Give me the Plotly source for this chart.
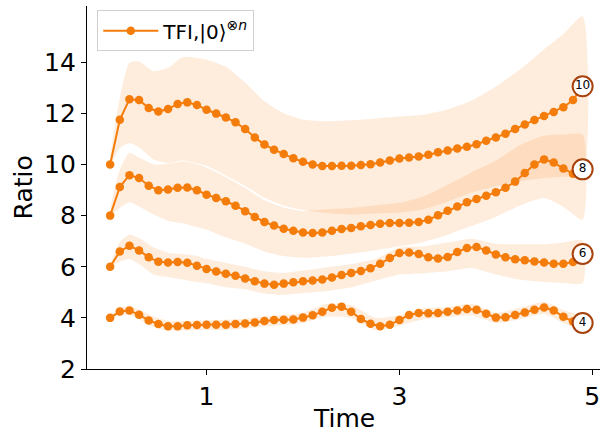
import plotly.graph_objects as go

# ---- data ----
time = [round(0.1 * i, 1) for i in range(50)]

ratio_10 = [10.0, 11.75, 12.55, 12.52, 12.21, 12.07, 12.17, 12.37, 12.43, 12.33,
            12.14, 11.99, 11.84, 11.65, 11.39, 11.06, 10.78, 10.58, 10.41, 10.24,
            10.11, 10.0, 9.94, 9.94, 9.95, 9.95, 9.98, 10.01, 10.08, 10.16,
            10.23, 10.27, 10.31, 10.38, 10.48, 10.55, 10.63, 10.69, 10.79, 10.93,
            11.06, 11.2, 11.39, 11.56, 11.74, 11.9, 12.05, 12.24, 12.52, 13.06]
ratio_8 = [8.0, 9.12, 9.58, 9.47, 9.17, 8.99, 9.02, 9.09, 9.1, 8.99,
           8.82, 8.69, 8.56, 8.39, 8.17, 7.95, 7.75, 7.61, 7.49, 7.41,
           7.34, 7.32, 7.34, 7.41, 7.48, 7.52, 7.58, 7.63, 7.68, 7.71,
           7.71, 7.72, 7.75, 7.84, 8.01, 8.19, 8.36, 8.52, 8.65, 8.78,
           8.91, 9.09, 9.33, 9.67, 10.0, 10.2, 10.08, 9.84, 9.64, 9.81]
ratio_6 = [6.0, 6.6, 6.82, 6.64, 6.37, 6.2, 6.17, 6.19, 6.16, 6.04,
           5.91, 5.81, 5.73, 5.65, 5.54, 5.43, 5.34, 5.3, 5.34, 5.39,
           5.43, 5.46, 5.5, 5.58, 5.68, 5.76, 5.83, 5.94, 6.12, 6.34,
           6.54, 6.56, 6.5, 6.37, 6.32, 6.38, 6.58, 6.73, 6.77, 6.64,
           6.48, 6.37, 6.29, 6.25, 6.21, 6.17, 6.12, 6.12, 6.19, 6.5]
ratio_4 = [4.0, 4.25, 4.29, 4.12, 3.9, 3.76, 3.67, 3.67, 3.71, 3.72,
           3.73, 3.73, 3.73, 3.76, 3.78, 3.82, 3.88, 3.92, 3.93, 3.94,
           4.01, 4.1, 4.24, 4.4, 4.44, 4.24, 3.96, 3.77, 3.67, 3.73,
           3.92, 4.11, 4.19, 4.18, 4.19, 4.24, 4.29, 4.35, 4.32, 4.16,
           4.01, 4.02, 4.11, 4.21, 4.32, 4.41, 4.29, 4.04, 3.86, 3.8]

band_t = [0, 0.1, 0.2, 0.3, 0.45, 0.6, 0.75, 0.9, 1.0, 1.2, 1.4, 1.6, 1.8,
          2.0, 2.25, 2.5, 2.75, 3.0, 3.25, 3.5, 3.75, 4.0, 4.25, 4.5, 4.7, 4.9]

upper_10 = [10.0, 12.6, 13.97, 14.03, 13.65, 13.78, 14.2, 14.17, 14.1, 13.82, 13.2, 12.47, 12.0,
            11.75, 11.69, 11.73, 11.8, 11.88, 11.95, 12.15, 12.5, 13.05, 13.72, 14.5, 15.1, 15.8]
lower_10 = [10.0, 10.65, 10.84, 10.66, 10.2, 10.06, 10.16, 10.05, 9.95, 9.57, 9.16, 8.7, 8.4,
            8.22, 8.1, 8.04, 8.08, 8.12, 8.25, 8.55, 8.9, 9.15, 9.35, 9.47, 9.52, 9.54]
upper_8 = [8.0, 9.8, 10.45, 10.27, 10.0, 10.03, 10.12, 10.02, 9.88, 9.5, 9.08, 8.6, 8.32,
           8.18, 8.25, 8.3, 8.4, 8.5, 8.75, 9.2, 9.7, 10.15, 10.75, 11.12, 11.17, 11.17]
lower_8 = [8.0, 8.3, 8.52, 8.36, 8.05, 7.8, 7.7, 7.55, 7.45, 7.15, 6.9, 6.6, 6.42,
           6.35, 6.4, 6.52, 6.65, 6.8, 6.97, 7.25, 7.6, 7.95, 8.4, 8.69, 8.35, 7.84]
upper_6 = [6.0, 6.95, 7.25, 7.12, 6.75, 6.55, 6.5, 6.42, 6.3, 6.15, 6.0, 5.82, 5.76,
           5.85, 5.98, 6.1, 6.3, 6.75, 6.8, 6.95, 7.1, 6.9, 6.88, 6.88, 6.95, 7.03]
lower_6 = [6.0, 6.2, 6.3, 6.1, 5.7, 5.6, 5.5, 5.4, 5.35, 5.2, 5.12, 4.95, 4.9,
           4.97, 5.05, 5.2, 5.45, 5.7, 5.75, 5.82, 5.95, 5.7, 5.5, 5.4, 5.36, 5.36]
upper_4 = [4.0, 4.38, 4.45, 4.32, 4.05, 3.89, 3.88, 3.9, 3.91, 3.93, 3.97, 4.05, 4.12,
           4.2, 4.55, 4.5, 4.0, 4.1, 4.38, 4.42, 4.55, 4.2, 4.4, 4.62, 4.3, 4.05]
lower_4 = [4.0, 4.1, 4.12, 3.95, 3.65, 3.5, 3.5, 3.52, 3.53, 3.53, 3.58, 3.66, 3.72,
           3.8, 4.05, 4.0, 3.52, 3.7, 3.95, 4.02, 4.1, 3.8, 3.95, 4.15, 3.8, 3.55]

curve_labels = ["10", "8", "6", "4"]
legend_name = "TFI,|0⟩<sup>⊗<i>n</i></sup>"
x_ticks = [1, 3, 5]
y_ticks = [2, 4, 6, 8, 10, 12, 14]

# ---- styles ----
LINE = "#f47c0a"
FILL = "rgba(248,140,50,0.17)"
EDGE = "#a8420c"
FONT = "DejaVu Sans"

fig = go.Figure()

bands = [(upper_10, lower_10), (upper_8, lower_8), (upper_6, lower_6), (upper_4, lower_4)]
for up, lo in bands:
    fig.add_trace(go.Scatter(
        x=band_t + band_t[::-1], y=up + lo[::-1],
        mode="lines", fill="toself", fillcolor=FILL,
        line=dict(width=0, shape="spline", smoothing=0.6),
        hoverinfo="skip", showlegend=False))

curves = [ratio_10, ratio_8, ratio_6, ratio_4]
for i, vals in enumerate(curves):
    fig.add_trace(go.Scatter(
        x=time, y=vals, mode="lines+markers",
        line=dict(color=LINE, width=2),
        marker=dict(color=LINE, size=8.5),
        name=legend_name, legendgroup="tfi", showlegend=(i == 0)))

fig.add_trace(go.Scatter(
    x=[time[-1]] * 4, y=[c[-1] for c in curves],
    mode="markers+text", text=curve_labels, textposition="middle center",
    textfont=dict(family=FONT, size=12, color="black"),
    marker=dict(size=20, color="white", line=dict(color=EDGE, width=2)),
    showlegend=False, hoverinfo="skip"))

axis_common = dict(showline=True, linecolor="black", linewidth=1.3,
                   ticks="outside", ticklen=5, tickwidth=1.3, tickcolor="black",
                   showgrid=False, zeroline=False, ticklabeloverflow="allow",
                   tickfont=dict(family=FONT, size=25, color="black"))

fig.update_layout(
    width=600, height=438,
    margin=dict(l=87, r=0, t=6, b=69),
    paper_bgcolor="white", plot_bgcolor="white",
    font=dict(family=FONT, color="black"),
    xaxis=dict(range=[-0.24, 5.08], tickvals=x_ticks, **axis_common),
    yaxis=dict(range=[2, 16.2], tickvals=y_ticks, **axis_common),
    legend=dict(x=0.02, y=0.988, xanchor="left", yanchor="top",
                itemwidth=55, tracegroupgap=0,
                bgcolor="rgba(255,255,255,0.85)", bordercolor="#d0d0d0", borderwidth=1,
                font=dict(family=FONT, size=20, color="black")),
    annotations=[
        dict(text="Time", xref="paper", yref="paper", x=0.5, y=-0.137,
             xanchor="center", yanchor="middle", showarrow=False,
             font=dict(family=FONT, size=25, color="black")),
        dict(text="Ratio", xref="paper", yref="paper", x=-0.123, y=0.5,
             xanchor="center", yanchor="middle", textangle=-90, showarrow=False,
             font=dict(family=FONT, size=25, color="black")),
    ],
)

fig.write_html("out.html")
